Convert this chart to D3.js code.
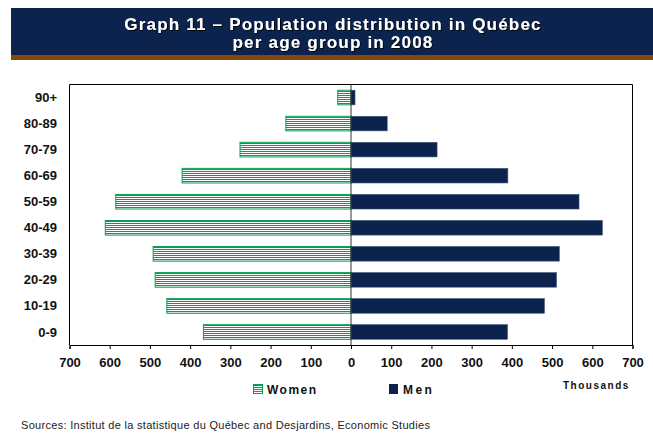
<!DOCTYPE html>
<html>
<head>
<meta charset="utf-8">
<script src="https://cdn.jsdelivr.net/npm/d3@7"></script>
<style>
  body { margin: 0; background: #fff; }
  svg { display: block; font-family: "Liberation Sans", Arial, sans-serif; }
</style>
</head>
<body>
<script>
// age groups, top to bottom
const ageGroups = ['90+', '80-89', '70-79', '60-69', '50-59', '40-49', '30-39', '20-29', '10-19', '0-9']
// thousands of people
const women = [33, 162, 276, 420, 585, 611, 492, 487, 458, 367]
const men = [10, 90, 214, 390, 567, 625, 518, 511, 481, 389]
const xTicks = [-700, -600, -500, -400, -300, -200, -100, 0, 100, 200, 300, 400, 500, 600, 700]

const W = 653, H = 440
const navy = '#0b234d'
const green = '#00a050'

const svg = d3.select('body').append('svg')
	.attr('width', W)
	.attr('height', H)

svg.append('defs').html(
	'<pattern id="stripes" patternUnits="userSpaceOnUse" width="4" height="2">' +
	'<rect width="4" height="2" fill="#fff"/><rect y="1" width="4" height="1" fill="' + green + '"/></pattern>' +
	'<filter id="shadow" x="-5%" y="-20%" width="110%" height="140%"><feDropShadow dx="1" dy="1" stdDeviation="0.3" flood-color="#000" flood-opacity="0.9"/></filter>'
)

// title banner
svg.append('rect').attr('x', 11).attr('y', 8).attr('width', W - 11).attr('height', 47).attr('fill', navy)
svg.append('rect').attr('x', 11).attr('y', 55).attr('width', W - 11).attr('height', 5).attr('fill', '#86470d')

const title = svg.append('text')
	.attr('text-anchor', 'middle')
	.attr('fill', '#fff')
	.attr('font-weight', 'bold')
	.attr('font-size', 17)
	.attr('letter-spacing', 1.2)
	.attr('filter', 'url(#shadow)')
title.append('tspan').attr('x', 333).attr('y', 30).text('Graph 11 – Population distribution in Québec')
title.append('tspan').attr('x', 333).attr('y', 48).text('per age group in 2008')

// plot area
const pLeft = 69.5, pRight = 632.5, pTop = 84.5, pBottom = 345

const x = d3.scaleLinear().domain([-700, 700]).range([pLeft, pRight])
const y = d3.scaleBand().domain(ageGroups).range([pTop, pBottom]).paddingInner(0.44).paddingOuter(0.22)

const g = svg.append('g')

// frame (left, top, right)
g.append('path')
	.attr('d', `M${pLeft},${pBottom}V${pTop}H${pRight}V${pBottom}`)
	.attr('fill', 'none')
	.attr('stroke', '#000')
	.attr('stroke-width', 1)

// women bars (left side)
g.selectAll('.women')
	.data(ageGroups)
	.enter().append('rect')
	.attr('class', 'women')
	.attr('x', (d, i) => x(-women[i]))
	.attr('y', d => y(d))
	.attr('width', (d, i) => x(0) - x(-women[i]))
	.attr('height', y.bandwidth())
	.attr('fill', 'url(#stripes)')
	.attr('stroke', green)
	.attr('stroke-width', 1)

// men bars (right side)
g.selectAll('.men')
	.data(ageGroups)
	.enter().append('rect')
	.attr('class', 'men')
	.attr('x', x(0))
	.attr('y', d => y(d))
	.attr('width', (d, i) => x(men[i]) - x(0))
	.attr('height', y.bandwidth())
	.attr('fill', navy)
	.attr('stroke', '#3a5272')
	.attr('stroke-width', 0.6)

// zero line
g.append('line')
	.attr('x1', x(0)).attr('x2', x(0))
	.attr('y1', pTop).attr('y2', pBottom)
	.attr('stroke', '#333')
	.attr('stroke-width', 1)

// x axis
const xAxis = d3.axisBottom(x)
	.tickValues(xTicks)
	.tickFormat(d => Math.abs(d))
	.tickSize(4)
	.tickPadding(9)

const ax = g.append('g')
	.attr('transform', `translate(0,${pBottom})`)
	.call(xAxis)
ax.select('.domain').attr('stroke', '#000')
ax.selectAll('.tick line').attr('stroke', '#000')
ax.selectAll('.tick text')
	.attr('fill', '#111')
	.attr('font-family', '"Liberation Sans", Arial, sans-serif')
	.attr('font-size', 13)
	.attr('font-weight', 'bold')

// y labels
g.selectAll('.age')
	.data(ageGroups)
	.enter().append('text')
	.attr('class', 'age')
	.attr('x', 57)
	.attr('y', d => y(d) + y.bandwidth() / 2)
	.attr('dy', '0.35em')
	.attr('text-anchor', 'end')
	.attr('font-size', 13)
	.attr('font-weight', 'bold')
	.attr('fill', '#111')
	.text(d => d)

// legend
const legend = svg.append('g').attr('font-size', 12).attr('font-weight', 'bold').attr('fill', '#111')
legend.append('rect').attr('x', 253.5).attr('y', 384.5).attr('width', 9).attr('height', 9)
	.attr('fill', 'url(#stripes)').attr('stroke', green)
legend.append('text').attr('x', 267).attr('y', 394).attr('letter-spacing', 1.5).text('Women')
legend.append('rect').attr('x', 389).attr('y', 384).attr('width', 9).attr('height', 10).attr('fill', navy)
legend.append('text').attr('x', 403).attr('y', 394).attr('letter-spacing', 2.4).text('Men')

svg.append('text')
	.attr('x', 563).attr('y', 389)
	.attr('font-size', 10).attr('font-weight', 'bold').attr('letter-spacing', 1.5)
	.attr('fill', '#111')
	.text('Thousands')

// source
svg.append('text')
	.attr('x', 21).attr('y', 429)
	.attr('font-size', 11)
	.attr('letter-spacing', 0.3)
	.attr('fill', '#222')
	.text('Sources: Institut de la statistique du Québec and Desjardins, Economic Studies')
</script>
</body>
</html>
